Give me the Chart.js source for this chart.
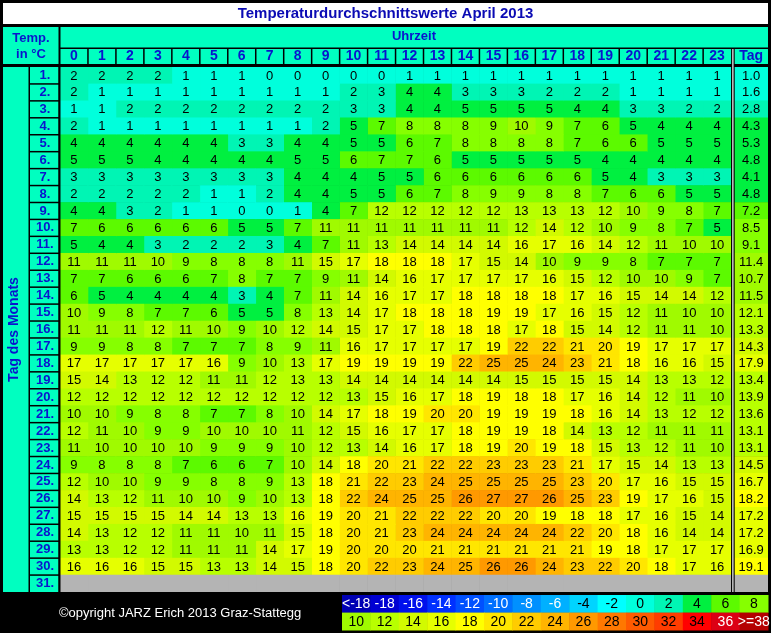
<!DOCTYPE html>
<html>
<head>
<meta charset="utf-8">
<script src="https://cdn.jsdelivr.net/npm/chart.js@4.4.0/dist/chart.umd.min.js"></script>
<style>
    html, body { margin: 0; padding: 0; background: #000; }
    canvas { display: block; }
</style>
</head>
<body>
<canvas id="heatmap" width="771" height="633"></canvas>
<script>
// hour columns and day rows
const hours = [0, 1, 2, 3, 4, 5, 6, 7, 8, 9, 10, 11, 12, 13, 14, 15, 16, 17, 18, 19, 20, 21, 22, 23];
const days = ['1.', '2.', '3.', '4.', '5.', '6.', '7.', '8.', '9.', '10.', '11.', '12.', '13.', '14.', '15.', '16.',
              '17.', '18.', '19.', '20.', '21.', '22.', '23.', '24.', '25.', '26.', '27.', '28.', '29.', '30.', '31.'];

// hourly mean temperatures, one row per day (31. April does not exist)
const temps = [
    [2, 2, 2, 2, 1, 1, 1, 0, 0, 0, 0, 0, 1, 1, 1, 1, 1, 1, 1, 1, 1, 1, 1, 1],
    [2, 1, 1, 1, 1, 1, 1, 1, 1, 1, 2, 3, 4, 4, 3, 3, 3, 2, 2, 2, 1, 1, 1, 1],
    [1, 1, 2, 2, 2, 2, 2, 2, 2, 2, 3, 3, 4, 4, 5, 5, 5, 5, 4, 4, 3, 3, 2, 2],
    [2, 1, 1, 1, 1, 1, 1, 1, 1, 2, 5, 7, 8, 8, 8, 9, 10, 9, 7, 6, 5, 4, 4, 4],
    [4, 4, 4, 4, 4, 4, 3, 3, 4, 4, 5, 5, 6, 7, 8, 8, 8, 8, 7, 6, 6, 5, 5, 5],
    [5, 5, 5, 4, 4, 4, 4, 4, 5, 5, 6, 7, 7, 6, 5, 5, 5, 5, 5, 4, 4, 4, 4, 4],
    [3, 3, 3, 3, 3, 3, 3, 3, 4, 4, 4, 5, 5, 6, 6, 6, 6, 6, 6, 5, 4, 3, 3, 3],
    [2, 2, 2, 2, 2, 1, 1, 2, 4, 4, 5, 5, 6, 7, 8, 9, 9, 8, 8, 7, 6, 6, 5, 5],
    [4, 4, 3, 2, 1, 1, 0, 0, 1, 4, 7, 12, 12, 12, 12, 12, 13, 13, 13, 12, 10, 9, 8, 7],
    [7, 6, 6, 6, 6, 6, 5, 5, 7, 11, 11, 11, 11, 11, 11, 11, 12, 14, 12, 10, 9, 8, 7, 5],
    [5, 4, 4, 3, 2, 2, 2, 3, 4, 7, 11, 13, 14, 14, 14, 14, 16, 17, 16, 14, 12, 11, 10, 10],
    [11, 11, 11, 10, 9, 8, 8, 8, 11, 15, 17, 18, 18, 18, 17, 15, 14, 10, 9, 9, 8, 7, 7, 7],
    [7, 7, 6, 6, 6, 7, 8, 7, 7, 9, 11, 14, 16, 17, 17, 17, 17, 16, 15, 12, 10, 10, 9, 7],
    [6, 5, 4, 4, 4, 4, 3, 4, 7, 11, 14, 16, 17, 17, 18, 18, 18, 18, 17, 16, 15, 14, 14, 12],
    [10, 9, 8, 7, 7, 6, 5, 5, 8, 13, 14, 17, 18, 18, 18, 19, 19, 17, 16, 15, 12, 11, 10, 10],
    [11, 11, 11, 12, 11, 10, 9, 10, 12, 14, 15, 17, 17, 18, 18, 18, 17, 18, 15, 14, 12, 11, 11, 10],
    [9, 9, 8, 8, 7, 7, 7, 8, 9, 11, 16, 17, 17, 17, 17, 19, 22, 22, 21, 20, 19, 17, 17, 17],
    [17, 17, 17, 17, 17, 16, 9, 10, 13, 17, 19, 19, 19, 19, 22, 25, 25, 24, 23, 21, 18, 16, 16, 15],
    [15, 14, 13, 12, 12, 11, 11, 12, 13, 13, 14, 14, 14, 14, 14, 14, 15, 15, 15, 15, 14, 13, 13, 12],
    [12, 12, 12, 12, 12, 12, 12, 12, 12, 12, 13, 15, 16, 17, 18, 19, 18, 18, 17, 16, 14, 12, 11, 10],
    [10, 10, 9, 8, 8, 7, 7, 8, 10, 14, 17, 18, 19, 20, 20, 19, 19, 19, 18, 16, 14, 13, 12, 12],
    [12, 11, 10, 9, 9, 10, 10, 10, 11, 12, 15, 16, 17, 17, 18, 19, 19, 18, 14, 13, 12, 11, 11, 11],
    [11, 10, 10, 10, 10, 9, 9, 9, 10, 12, 13, 14, 16, 17, 18, 19, 20, 19, 18, 15, 13, 12, 11, 10],
    [9, 8, 8, 8, 7, 6, 6, 7, 10, 14, 18, 20, 21, 22, 22, 23, 23, 23, 21, 17, 15, 14, 13, 13],
    [12, 10, 10, 9, 9, 8, 8, 9, 13, 18, 21, 22, 23, 24, 25, 25, 25, 25, 23, 20, 17, 16, 15, 15],
    [14, 13, 12, 11, 10, 10, 9, 10, 13, 18, 22, 24, 25, 25, 26, 27, 27, 26, 25, 23, 19, 17, 16, 15],
    [15, 15, 15, 15, 14, 14, 13, 13, 16, 19, 20, 21, 22, 22, 22, 20, 20, 19, 18, 18, 17, 16, 15, 14],
    [14, 13, 12, 12, 11, 11, 10, 11, 15, 18, 20, 21, 23, 24, 24, 24, 24, 24, 22, 20, 18, 16, 14, 14],
    [13, 13, 12, 12, 11, 11, 11, 14, 17, 19, 20, 20, 20, 21, 21, 21, 21, 21, 21, 19, 18, 17, 17, 17],
    [16, 16, 16, 15, 15, 13, 13, 14, 15, 18, 20, 22, 23, 24, 25, 26, 26, 24, 23, 22, 20, 18, 17, 16]
];

// daily means ("Tag" column)
const dayMeans = [1.0, 1.6, 2.8, 4.3, 5.3, 4.8, 4.1, 4.8, 7.2, 8.5, 9.1, 11.4, 10.7, 11.5, 12.1,
                  13.3, 14.3, 17.9, 13.4, 13.9, 13.6, 13.1, 13.1, 14.5, 16.7, 18.2, 17.2, 17.2, 16.9, 19.1];

// colour scale (2 degree steps)
const legendLabels = ['<-18', '-18', '-16', '-14', '-12', '-10', '-8', '-6', '-4', '-2', '0', '2', '4', '6', '8',
                      '10', '12', '14', '16', '18', '20', '22', '24', '26', '28', '30', '32', '34', '36', '>=38'];
const legendColors = ['#0000B4', '#0000D2', '#0010EC', '#0030FF', '#0050FF', '#0070FF', '#0090FF', '#00B0FF',
                      '#00D4FF', '#00FFFF', '#00FFDC', '#00F5B4', '#00F040', '#5CFA00', '#86FF00',
                      '#A0FA00', '#B8FF00', '#D2FA00', '#E6FF00', '#FFFF00', '#FFE600', '#FFCC00', '#FFB400',
                      '#FF9900', '#FF7800', '#FF5A00', '#FF3C00', '#FF0000', '#DC0014', '#B40000'];
const legendWhiteText = ['<-18', '-18', '-16', '-14', '-12', '-10', '-8', '-6', '36', '>=38'];

const headerColor = '#00FFC0';
const emptyColor = '#B4B4B4';
const labelBlue = '#0A14CD';
const tagRange = [24.11, 25.32];

function colorFor(v) {
    if (v === undefined || v === null) return emptyColor;
    if (v < -18) return legendColors[0];
    let idx = Math.floor((v + 18) / 2) + 1;
    if (idx > legendColors.length - 1) idx = legendColors.length - 1;
    return legendColors[idx];
}

// one floating-bar dataset per hour, plus the daily mean column
const datasets = hours.map((h, hi) => ({
    data: days.map(() => [h, h + 1]),
    backgroundColor: days.map((d, di) => colorFor(temps[di] ? temps[di][hi] : null)),
    cellText: days.map((d, di) => temps[di] ? String(temps[di][hi]) : null)
}));
datasets.push({
    data: days.map(() => tagRange),
    backgroundColor: days.map((d, di) => colorFor(dayMeans[di])),
    cellText: days.map((d, di) => dayMeans[di] !== undefined ? dayMeans[di].toFixed(1) : null)
});

const tablePlugin = {
    id: 'tableFrame',
    beforeDraw(chart) {
        const {ctx, chartArea: a} = chart;
        ctx.save();
        ctx.fillStyle = '#000';
        ctx.fillRect(0, 0, chart.width, chart.height);
        ctx.fillStyle = '#fff';
        ctx.fillRect(3, 3, a.right - 3, 21);
        ctx.fillStyle = headerColor;
        ctx.fillRect(3, 27, a.right - 3, a.top - 30);
        ctx.fillRect(3, a.top, 55.5, a.bottom - a.top);
        ctx.restore();
    },
    afterDatasetsDraw(chart) {
        const {ctx, chartArea: a, scales: {x, y}} = chart;
        ctx.save();

        // numbers in the cells
        ctx.fillStyle = '#000';
        ctx.font = '13px "Liberation Sans", Arial, sans-serif';
        ctx.textAlign = 'center';
        ctx.textBaseline = 'middle';
        chart.data.datasets.forEach((ds, i) => {
            chart.getDatasetMeta(i).data.forEach((bar, j) => {
                if (ds.cellText[j] === null) return;
                const c = bar.getCenterPoint();
                ctx.fillText(ds.cellText[j], c.x, c.y + 0.5);
            });
        });

        // header grid
        ctx.fillStyle = '#000';
        ctx.fillRect(a.left, 47.5, a.right - a.left, 1.5);
        hours.slice(1).forEach(h => {
            const px = x.getPixelForValue(h);
            ctx.fillRect(px - 0.75, 49, 1.5, a.top - 52);
        });
        ctx.fillRect(58.5, 27, 2, a.bottom - 27);

        // double line before the "Tag" column
        const px24 = x.getPixelForValue(hours.length);
        ctx.fillRect(px24, 48, 3.6, a.bottom - 48);
        ctx.fillStyle = '#fff';
        ctx.fillRect(px24 + 1.2, 49, 1.2, a.bottom - 49);

        // day label cells
        ctx.fillStyle = '#000';
        ctx.fillRect(28.5, a.top, 1.5, a.bottom - a.top);
        const band = (a.bottom - a.top) / days.length;
        days.forEach((d, i) => {
            const top = y.getPixelForValue(i) - band / 2;
            if (i > 0) ctx.fillRect(29, top - 0.75, 31, 1.5);
        });
        ctx.restore();
    },
    afterDraw(chart) {
        const {ctx} = chart;
        ctx.save();
        ctx.textAlign = 'center';
        ctx.textBaseline = 'middle';

        // corner cell
        ctx.fillStyle = labelBlue;
        ctx.font = 'bold 13px "Liberation Sans", Arial, sans-serif';
        ctx.fillText('Temp.', 31, 38);
        ctx.fillText('in °C', 31, 54);

        // copyright
        ctx.fillStyle = '#fff';
        ctx.textAlign = 'left';
        ctx.font = '13px "Liberation Sans", Arial, sans-serif';
        ctx.fillText('©opyright JARZ Erich 2013 Graz-Stattegg', 59, 613);

        // colour key
        const perRow = 15, lx = 342, ly = 595, lw = 28.4, lh = 17.6;
        ctx.textAlign = 'center';
        ctx.font = '14px "Liberation Sans", Arial, sans-serif';
        legendLabels.forEach((lab, i) => {
            const col = i % perRow, row = Math.floor(i / perRow);
            const cx = lx + col * lw, cy = ly + row * lh;
            ctx.fillStyle = legendColors[i];
            ctx.fillRect(cx, cy, lw + 0.5, lh + 0.3);
            ctx.fillStyle = legendWhiteText.includes(lab) ? '#fff' : '#000';
            ctx.fillText(lab, cx + lw / 2, cy + lh / 2 + 0.5);
        });
        ctx.restore();
    }
};

new Chart(document.getElementById('heatmap'), {
    type: 'bar',
    data: { labels: days, datasets: datasets },
    options: {
        indexAxis: 'y',
        responsive: false,
        animation: false,
        events: [],
        datasets: {
            bar: { grouped: false, barPercentage: 1, categoryPercentage: 1, borderWidth: 0, borderSkipped: false }
        },
        layout: { padding: { left: 3, right: 3, top: 3, bottom: 41 } },
        plugins: {
            legend: { display: false },
            tooltip: { enabled: false },
            title: {
                display: true,
                text: 'Temperaturdurchschnittswerte April 2013',
                color: '#0A0AB4',
                font: { family: '"Liberation Sans", Arial, sans-serif', size: 15, weight: 'bold' },
                padding: { top: 2, bottom: 4 }
            }
        },
        scales: {
            x: {
                type: 'linear',
                position: 'top',
                min: 0,
                max: tagRange[1],
                grid: { display: false, drawTicks: false },
                border: { display: false },
                afterBuildTicks: scale => {
                    scale.ticks = hours.map(h => ({ value: h + 0.5 }))
                        .concat([{ value: (tagRange[0] + tagRange[1]) / 2 }]);
                },
                afterFit: scale => { scale.height = 40; },
                ticks: {
                    autoSkip: false,
                    maxRotation: 0,
                    padding: 2,
                    color: labelBlue,
                    font: { family: '"Liberation Sans Narrow", "Liberation Sans", Arial, sans-serif', size: 14, weight: 'bold' },
                    callback: (val, idx) => idx < hours.length ? String(hours[idx]) : 'Tag'
                },
                title: {
                    display: true,
                    text: 'Uhrzeit',
                    color: labelBlue,
                    font: { family: '"Liberation Sans", Arial, sans-serif', size: 13, weight: 'bold' },
                    padding: { top: 2, bottom: 0 }
                }
            },
            y: {
                type: 'category',
                grid: { display: false, drawTicks: false },
                border: { display: false },
                afterFit: scale => { scale.width = 57; },
                ticks: {
                    autoSkip: false,
                    crossAlign: 'center',
                    padding: 6,
                    color: labelBlue,
                    font: { family: '"Liberation Sans", Arial, sans-serif', size: 13, weight: 'bold' }
                },
                title: {
                    display: true,
                    text: 'Tag des Monats',
                    color: labelBlue,
                    font: { family: '"Liberation Sans", Arial, sans-serif', size: 14, weight: 'bold' },
                    padding: { top: 3, bottom: 0 }
                }
            }
        }
    },
    plugins: [tablePlugin]
});
</script>
</body>
</html>
